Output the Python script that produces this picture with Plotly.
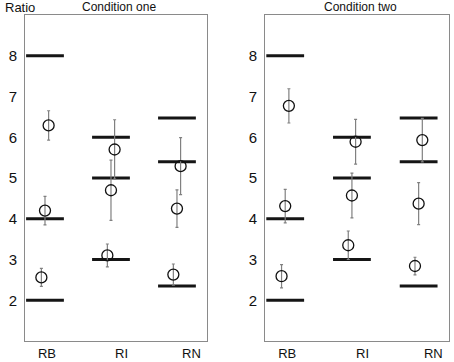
import plotly.graph_objects as go

categories = ["RB", "RI", "RN"]
cat_pos = [1, 2, 3]
tick_label_pos = [1.03, 2.16, 3.22]

# Predicted values (horizontal dashes), same in both conditions
pred_high = [8.0, 6.0, 6.47]
pred_mid = [4.0, 5.0, 5.4]
pred_low = [2.0, 3.0, 2.35]

# Condition one observed means and error half-widths
c1_high = [6.29, 5.70, 5.29]
c1_high_err = [0.36, 0.73, 0.70]
c1_mid = [4.20, 4.70, 4.25]
c1_mid_err = [0.35, 0.74, 0.46]
c1_low = [2.56, 3.10, 2.63]
c1_low_err = [0.22, 0.28, 0.26]

# Condition two observed means and error half-widths
c2_high = [6.77, 5.89, 5.93]
c2_high_err = [0.42, 0.55, 0.535]
c2_mid = [4.31, 4.57, 4.37]
c2_mid_err = [0.41, 0.55, 0.515]
c2_low = [2.59, 3.35, 2.84]
c2_low_err = [0.285, 0.35, 0.215]

panels = [
    ("x", "y", [(c1_high, c1_high_err, 0.055), (c1_mid, c1_mid_err, 0.0), (c1_low, c1_low_err, -0.055)]),
    ("x2", "y2", [(c2_high, c2_high_err, 0.055), (c2_mid, c2_mid_err, 0.0), (c2_low, c2_low_err, -0.055)]),
]

fig = go.Figure()
for xa, ya, groups in panels:
    for pred in (pred_high, pred_mid, pred_low):
        fig.add_trace(go.Scatter(
            x=cat_pos, y=pred, mode="markers", xaxis=xa, yaxis=ya,
            marker=dict(symbol="line-ew", size=27, line=dict(width=3, color="#151515")),
            showlegend=False, hoverinfo="skip"))
    for vals, errs, off in groups:
        fig.add_trace(go.Scatter(
            x=[p + off for p in cat_pos], y=vals, mode="markers", xaxis=xa, yaxis=ya,
            marker=dict(symbol="circle-open", size=11, color="#111111", line=dict(width=1.3, color="#111111")),
            error_y=dict(type="data", array=errs, visible=True, color="#808080", thickness=1.2, width=1.5),
            showlegend=False))

xcommon = dict(range=[0.697, 3.455], tickmode="array", tickvals=tick_label_pos, ticktext=categories,
               showline=True, linecolor="#8a8a8a", linewidth=1, mirror=True, showgrid=False,
               zeroline=False, ticks="", tickfont=dict(family="Liberation Sans, Arial", size=13, color="#111"))
ycommon = dict(range=[1, 9], tickmode="array", tickvals=[2, 3, 4, 5, 6, 7, 8],
               showline=True, linecolor="#8a8a8a", linewidth=1, mirror=True, showgrid=False,
               zeroline=False, ticks="", ticklabelstandoff=4,
               tickfont=dict(family="Liberation Sans, Arial", size=15, color="#111"))

fig.update_layout(
    width=454, height=362,
    margin=dict(l=0, r=0, t=0, b=0),
    paper_bgcolor="white", plot_bgcolor="white",
    xaxis=dict(domain=[25 / 454, 207 / 454], anchor="y", **xcommon),
    yaxis=dict(domain=[1 - 341 / 362, 1 - 15 / 362], anchor="x", **ycommon),
    xaxis2=dict(domain=[265 / 454, 449 / 454], anchor="y2", **xcommon),
    yaxis2=dict(domain=[1 - 341 / 362, 1 - 15 / 362], anchor="x2", **ycommon),
    annotations=[
        dict(text="Ratio", x=3 / 454, y=1 - 7 / 362, xref="paper", yref="paper", xanchor="left", yanchor="middle",
             showarrow=False, font=dict(family="Liberation Sans, Arial", size=13, color="#111")),
        dict(text="Condition one", x=119 / 454, y=1 - 7 / 362, xref="paper", yref="paper", xanchor="center",
             yanchor="middle", showarrow=False, font=dict(family="Liberation Sans, Arial", size=12, color="#111")),
        dict(text="Condition two", x=360 / 454, y=1 - 7 / 362, xref="paper", yref="paper", xanchor="center",
             yanchor="middle", showarrow=False, font=dict(family="Liberation Sans, Arial", size=12, color="#111")),
    ],
)

fig.write_html("out.html", config={"displayModeBar": False},
               post_script="document.body.style.margin='0';document.body.style.overflow='hidden';")
